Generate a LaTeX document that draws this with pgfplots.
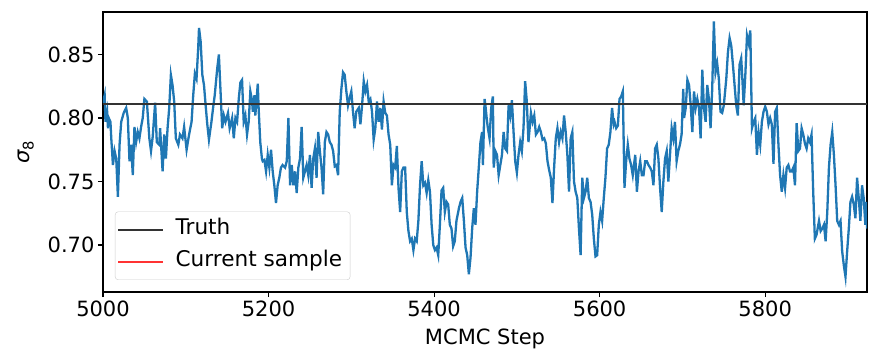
\documentclass[border=0pt]{standalone}
\usepackage{fontspec}
\setmainfont{DejaVu Sans}
\usepackage{pgfplots}
\pgfplotsset{compat=1.18}
\definecolor{mplblue}{HTML}{1F77B4}
\newcommand{\fs}{\fontsize{21}{25}\selectfont}
\newcommand{\fsl}{\fontsize{21.6}{26}\selectfont}
\begin{document}
\begin{tikzpicture}
\useasboundingbox (-103pt,-62pt) rectangle (781pt,292pt);
\begin{axis}[
  at={(0,0)}, anchor=south west,
  scale only axis, width=764pt, height=280pt,
  xmin=5000, xmax=5923, ymin=0.663, ymax=0.8835,
  xtick={5000,5200,5400,5600,5800},
  ytick={0.70,0.75,0.80,0.85},
  xtick pos=bottom, ytick pos=left,
  scaled ticks=false,
  tick align=outside, major tick length=5pt,
  every tick/.style={black, line width=1.1pt},
  axis line style={black, line width=1.1pt},
  minor tick num=0,
  /pgf/number format/assume math mode=true,
  xticklabel style={font=\fs, /pgf/number format/set thousands separator={}},
  yticklabel style={font=\fs, /pgf/number format/.cd, fixed, fixed zerofill, precision=2},
  xlabel={MCMC Step},
  ylabel={\textit{σ}\textsubscript{8}},
  every axis x label/.style={at={(axis description cs:0.5,0)}, anchor=base, yshift=-52pt, font=\fs},
  every axis y label/.style={at={(axis description cs:-0.1008,0.5)}, anchor=center, rotate=90, font=\fs},
  legend style={at={(axis description cs:0.0157,0.043)}, anchor=south west,
    draw=black!20, rounded corners=3pt, fill=white, fill opacity=0.8, text opacity=1,
    font=\fsl, inner xsep=2pt, inner ysep=2pt,
    nodes={inner xsep=6pt, inner ysep=6pt, text height=15pt, text depth=5pt},
    column sep=5pt, row sep=0pt},
  legend cell align=left,
  legend image code/.code={\draw[#1] (0pt,0pt) -- (45pt,0pt);},
]
\addlegendimage{black!80, line width=2.4pt}
\addlegendentry{Truth}
\addlegendimage{red!80!white, line width=2.4pt}
\addlegendentry{Current sample}
\addplot[mplblue, line width=2.3pt, forget plot] table {
x y
5000 0.812
5002 0.818
5003 0.797
5005 0.805
5006 0.792
5007 0.800
5009 0.797
5010 0.784
5012 0.763
5014 0.774
5016 0.768
5018 0.738
5020 0.779
5022 0.797
5025 0.804
5028 0.808
5030 0.800
5032 0.766
5034 0.779
5036 0.755
5038 0.793
5040 0.781
5042 0.789
5044 0.784
5046 0.793
5048 0.800
5050 0.815
5053 0.813
5056 0.784
5058 0.774
5060 0.785
5063 0.812
5065 0.781
5068 0.779
5069 0.792
5072 0.758
5074 0.787
5076 0.768
5078 0.792
5080 0.808
5082 0.834
5084 0.826
5086 0.813
5088 0.784
5091 0.779
5093 0.787
5096 0.784
5098 0.793
5101 0.775
5104 0.787
5107 0.797
5109 0.818
5111 0.835
5113 0.831
5115 0.855
5116 0.871
5118 0.860
5120 0.834
5122 0.826
5124 0.810
5126 0.795
5128 0.783
5131 0.797
5133 0.808
5135 0.818
5138 0.839
5140 0.850
5142 0.821
5144 0.792
5146 0.802
5148 0.797
5151 0.804
5153 0.792
5156 0.800
5158 0.784
5160 0.800
5162 0.797
5164 0.815
5166 0.828
5168 0.830
5170 0.797
5172 0.802
5174 0.787
5176 0.797
5178 0.821
5180 0.814
5181 0.805
5183 0.818
5184 0.802
5187 0.827
5188 0.808
5190 0.781
5192 0.768
5193 0.766
5195 0.767
5197 0.758
5199 0.771
5201 0.761
5203 0.775
5205 0.758
5207 0.747
5209 0.733
5211 0.747
5213 0.753
5215 0.761
5217 0.763
5220 0.761
5222 0.766
5224 0.800
5226 0.747
5228 0.763
5230 0.747
5232 0.758
5234 0.741
5236 0.761
5238 0.768
5240 0.793
5242 0.753
5244 0.758
5246 0.763
5248 0.755
5250 0.771
5252 0.745
5254 0.768
5256 0.776
5258 0.753
5260 0.789
5262 0.774
5264 0.761
5266 0.740
5268 0.781
5270 0.789
5272 0.787
5274 0.781
5276 0.779
5278 0.774
5280 0.762
5282 0.763
5284 0.755
5286 0.805
5288 0.823
5290 0.836
5292 0.834
5294 0.821
5296 0.810
5298 0.816
5300 0.821
5302 0.805
5304 0.792
5306 0.805
5309 0.808
5311 0.795
5313 0.810
5315 0.829
5317 0.821
5319 0.826
5321 0.813
5323 0.815
5325 0.805
5327 0.783
5329 0.792
5331 0.813
5333 0.797
5335 0.808
5337 0.791
5339 0.813
5341 0.804
5343 0.802
5345 0.787
5347 0.779
5349 0.747
5351 0.763
5353 0.761
5355 0.778
5357 0.745
5359 0.726
5361 0.758
5363 0.761
5365 0.761
5367 0.726
5369 0.711
5371 0.703
5373 0.705
5375 0.696
5377 0.705
5379 0.703
5381 0.719
5383 0.747
5385 0.766
5387 0.747
5389 0.749
5391 0.741
5393 0.751
5395 0.742
5397 0.716
5399 0.700
5401 0.696
5403 0.698
5405 0.692
5407 0.716
5409 0.743
5411 0.745
5413 0.726
5415 0.734
5417 0.732
5419 0.716
5421 0.713
5423 0.699
5425 0.703
5427 0.719
5430 0.729
5432 0.734
5434 0.737
5436 0.719
5438 0.698
5440 0.692
5442 0.677
5444 0.690
5446 0.713
5448 0.729
5450 0.716
5452 0.742
5454 0.761
5456 0.781
5458 0.789
5459 0.763
5461 0.815
5462 0.810
5464 0.797
5465 0.792
5467 0.784
5469 0.808
5471 0.817
5472 0.761
5474 0.774
5476 0.771
5478 0.755
5480 0.763
5482 0.771
5484 0.789
5486 0.776
5488 0.774
5490 0.810
5492 0.802
5494 0.814
5496 0.789
5498 0.766
5500 0.757
5502 0.771
5504 0.781
5506 0.774
5508 0.792
5510 0.829
5512 0.813
5514 0.781
5517 0.804
5519 0.797
5521 0.802
5523 0.787
5525 0.789
5527 0.793
5529 0.789
5531 0.783
5533 0.784
5535 0.780
5537 0.766
5539 0.759
5541 0.753
5543 0.733
5545 0.761
5547 0.784
5549 0.792
5551 0.781
5553 0.789
5555 0.784
5557 0.802
5559 0.789
5561 0.771
5563 0.742
5565 0.784
5567 0.789
5569 0.750
5571 0.742
5573 0.737
5575 0.713
5577 0.692
5579 0.753
5581 0.737
5583 0.742
5585 0.753
5587 0.737
5589 0.734
5591 0.724
5593 0.705
5595 0.691
5597 0.692
5599 0.716
5601 0.726
5603 0.719
5605 0.737
5607 0.753
5609 0.776
5611 0.779
5613 0.789
5615 0.808
5617 0.795
5618 0.797
5620 0.792
5622 0.794
5624 0.815
5626 0.817
5628 0.821
5630 0.745
5632 0.766
5634 0.779
5636 0.768
5638 0.763
5640 0.755
5643 0.771
5645 0.742
5647 0.758
5649 0.766
5651 0.755
5653 0.755
5655 0.766
5657 0.766
5659 0.763
5661 0.761
5663 0.758
5665 0.747
5667 0.776
5669 0.779
5671 0.768
5673 0.745
5675 0.726
5677 0.750
5679 0.768
5681 0.774
5683 0.750
5685 0.771
5687 0.792
5689 0.784
5691 0.797
5693 0.766
5695 0.774
5697 0.779
5699 0.787
5701 0.823
5702 0.800
5704 0.808
5706 0.830
5708 0.826
5710 0.810
5712 0.789
5714 0.821
5716 0.808
5718 0.815
5720 0.808
5722 0.784
5724 0.838
5726 0.808
5728 0.797
5730 0.826
5732 0.815
5734 0.792
5736 0.823
5738 0.876
5740 0.836
5742 0.843
5744 0.831
5746 0.805
5748 0.804
5750 0.810
5753 0.831
5755 0.852
5757 0.863
5759 0.857
5761 0.842
5763 0.826
5765 0.810
5767 0.802
5769 0.842
5771 0.847
5772 0.836
5774 0.810
5776 0.834
5778 0.865
5780 0.859
5782 0.869
5784 0.792
5786 0.797
5788 0.800
5790 0.771
5792 0.789
5794 0.779
5796 0.797
5798 0.805
5800 0.809
5802 0.805
5804 0.795
5806 0.800
5808 0.795
5810 0.764
5812 0.805
5814 0.808
5816 0.779
5818 0.755
5820 0.742
5822 0.755
5824 0.745
5826 0.761
5828 0.763
5830 0.758
5832 0.758
5834 0.761
5836 0.747
5838 0.796
5840 0.774
5842 0.776
5844 0.792
5846 0.787
5848 0.780
5850 0.776
5852 0.784
5854 0.781
5856 0.787
5858 0.742
5860 0.705
5862 0.708
5865 0.719
5867 0.711
5869 0.713
5871 0.716
5873 0.703
5875 0.726
5877 0.761
5879 0.779
5881 0.789
5883 0.771
5885 0.747
5887 0.719
5889 0.716
5891 0.719
5893 0.695
5895 0.684
5897 0.675
5899 0.695
5901 0.713
5903 0.734
5905 0.738
5907 0.732
5909 0.721
5911 0.753
5913 0.737
5915 0.719
5917 0.747
5919 0.737
5921 0.716
5922 0.734
5923 0.713
};
\addplot[black!80, line width=2.8pt, forget plot] coordinates {(5000,0.811) (5923,0.811)};
\end{axis}
\end{tikzpicture}
\end{document}
